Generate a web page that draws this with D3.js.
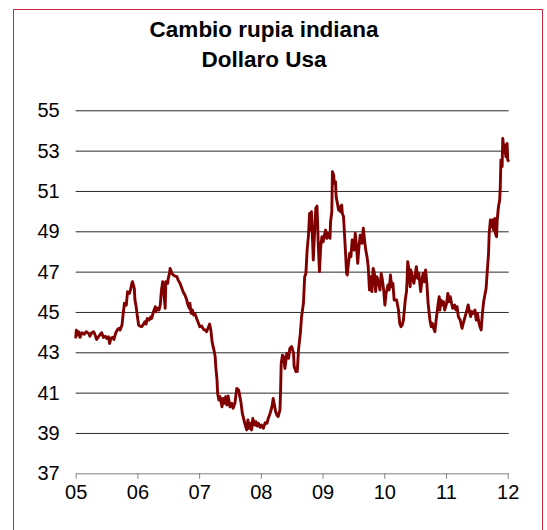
<!DOCTYPE html>
<html>
<head>
<meta charset="utf-8">
<script src="https://cdn.jsdelivr.net/npm/d3@7"></script>
<style>
  html, body { margin: 0; padding: 0; background: #fff; }
  svg { display: block; font-family: "Liberation Sans", Arial, sans-serif; }
</style>
</head>
<body>
<svg id="chart" width="547" height="530"></svg>
<script>
// INR per USD, time expressed as decimal years
const dates = [
  2005.00, 2005.01, 2005.03, 2005.05, 2005.07, 2005.10, 2005.14, 2005.17, 2005.21, 2005.23,
  2005.26, 2005.29, 2005.31, 2005.34, 2005.37, 2005.39, 2005.42, 2005.45, 2005.48, 2005.50,
  2005.53, 2005.55, 2005.57, 2005.60, 2005.62, 2005.64, 2005.65, 2005.68, 2005.70, 2005.72,
  2005.75, 2005.77, 2005.79, 2005.82, 2005.84, 2005.87, 2005.89, 2005.91, 2005.92, 2005.95,
  2005.96, 2005.98, 2006.00, 2006.02, 2006.04, 2006.07, 2006.10, 2006.12, 2006.14, 2006.16,
  2006.19, 2006.22, 2006.23, 2006.26, 2006.29, 2006.30, 2006.32, 2006.35, 2006.37, 2006.39,
  2006.41, 2006.43, 2006.45, 2006.46, 2006.49, 2006.50, 2006.52, 2006.53, 2006.56, 2006.58,
  2006.61, 2006.64, 2006.66, 2006.69, 2006.72, 2006.74, 2006.77, 2006.80, 2006.81, 2006.84,
  2006.85, 2006.87, 2006.89, 2006.91, 2006.93, 2006.96, 2006.98, 2007.00, 2007.01, 2007.04,
  2007.07, 2007.10, 2007.12, 2007.15, 2007.17, 2007.19, 2007.21, 2007.24, 2007.26, 2007.27,
  2007.29, 2007.30, 2007.32, 2007.34, 2007.37, 2007.39, 2007.41, 2007.43, 2007.45, 2007.47,
  2007.50, 2007.53, 2007.55, 2007.58, 2007.61, 2007.64, 2007.66, 2007.68, 2007.70, 2007.72,
  2007.74, 2007.77, 2007.79, 2007.81, 2007.83, 2007.85, 2007.87, 2007.90, 2007.92, 2007.94,
  2007.96, 2007.99, 2008.01, 2008.04, 2008.07, 2008.10, 2008.12, 2008.15, 2008.18, 2008.20,
  2008.22, 2008.24, 2008.26, 2008.28, 2008.31, 2008.32, 2008.33, 2008.35, 2008.37, 2008.39,
  2008.42, 2008.45, 2008.47, 2008.50, 2008.53, 2008.54, 2008.57, 2008.59, 2008.61, 2008.64,
  2008.66, 2008.69, 2008.71, 2008.73, 2008.75, 2008.77, 2008.79, 2008.81, 2008.82, 2008.85,
  2008.87, 2008.89, 2008.91, 2008.93, 2008.95, 2008.97, 2008.99, 2009.01, 2009.03, 2009.05,
  2009.07, 2009.09, 2009.12, 2009.13, 2009.15, 2009.16, 2009.18, 2009.19, 2009.21, 2009.22,
  2009.24, 2009.26, 2009.27, 2009.29, 2009.31, 2009.32, 2009.34, 2009.35, 2009.37, 2009.39,
  2009.40, 2009.42, 2009.44, 2009.46, 2009.48, 2009.51, 2009.53, 2009.55, 2009.57, 2009.59,
  2009.61, 2009.64, 2009.66, 2009.68, 2009.70, 2009.72, 2009.74, 2009.76, 2009.78, 2009.80,
  2009.82, 2009.84, 2009.86, 2009.88, 2009.91, 2009.93, 2009.95, 2009.97, 2009.99, 2010.01,
  2010.03, 2010.06, 2010.08, 2010.10, 2010.12, 2010.14, 2010.16, 2010.20, 2010.23, 2010.25,
  2010.27, 2010.29, 2010.31, 2010.34, 2010.36, 2010.37, 2010.38, 2010.40, 2010.42, 2010.43,
  2010.46, 2010.48, 2010.50, 2010.52, 2010.54, 2010.56, 2010.59, 2010.61, 2010.63, 2010.65,
  2010.67, 2010.69, 2010.71, 2010.74, 2010.76, 2010.78, 2010.80, 2010.82, 2010.84, 2010.87,
  2010.89, 2010.90, 2010.92, 2010.94, 2010.96, 2010.98, 2011.01, 2011.03, 2011.05, 2011.07,
  2011.09, 2011.11, 2011.14, 2011.16, 2011.18, 2011.20, 2011.23, 2011.26, 2011.28, 2011.31,
  2011.34, 2011.36, 2011.38, 2011.40, 2011.42, 2011.44, 2011.47, 2011.49, 2011.51, 2011.53,
  2011.55, 2011.57, 2011.59, 2011.61, 2011.63, 2011.65, 2011.67, 2011.69, 2011.70, 2011.72,
  2011.74, 2011.75, 2011.77, 2011.79, 2011.80, 2011.82, 2011.83, 2011.85, 2011.87, 2011.88,
  2011.89, 2011.91, 2011.92, 2011.94, 2011.95, 2011.97, 2011.99, 2012.00, 2012.02
];

const rates = [
  43.69, 44.10, 43.86, 44.02, 43.74, 43.97, 43.90, 44.02, 43.94, 43.80,
  43.97, 44.02, 43.90, 43.64, 43.77, 43.86, 43.97, 43.74, 43.80, 43.69,
  43.77, 43.44, 43.69, 43.74, 43.64, 43.86, 43.97, 44.14, 44.19, 44.10,
  44.35, 44.93, 45.43, 45.34, 46.00, 45.92, 46.12, 46.42, 46.50, 46.17,
  45.59, 45.26, 44.76, 44.35, 44.30, 44.27, 44.40, 44.52, 44.40, 44.68,
  44.60, 44.76, 44.68, 45.01, 45.26, 45.01, 45.18, 45.10, 45.34, 46.09,
  46.50, 45.92, 45.18, 46.50, 46.42, 46.67, 46.91, 47.16, 46.91, 46.83,
  46.78, 46.75, 46.58, 46.42, 46.17, 46.00, 45.84, 45.59, 45.43, 45.18,
  45.43, 44.93, 45.10, 44.85, 44.93, 44.68, 44.52, 44.35, 44.27, 44.30,
  44.14, 44.10, 44.02, 44.24, 44.40, 44.10, 43.52, 43.11, 42.78, 42.28,
  41.62, 40.96, 40.63, 40.80, 40.30, 40.71, 40.47, 40.80, 40.38, 40.83,
  40.30, 40.47, 40.22, 40.47, 41.21, 41.13, 40.80, 40.47, 39.97, 39.72,
  39.48, 39.15, 39.64, 39.23, 39.48, 39.15, 39.72, 39.39, 39.56, 39.34,
  39.48, 39.28, 39.39, 39.23, 39.51, 39.48, 39.72, 39.97, 40.30, 40.71,
  40.38, 40.05, 39.89, 39.81, 40.14, 41.13, 42.45, 42.86, 42.78, 42.20,
  42.95, 42.70, 43.20, 43.28, 42.95, 42.29, 42.04, 42.04, 43.11, 43.94,
  44.77, 45.43, 46.75, 46.91, 48.07, 48.73, 49.89, 49.06, 49.97, 47.58,
  48.90, 50.14, 50.25, 48.40, 47.00, 48.24, 48.73, 48.48, 48.81, 49.06,
  48.65, 48.90, 48.65, 49.48, 49.97, 51.96, 51.79, 51.38, 51.46, 50.72,
  50.39, 50.06, 50.22, 49.97, 50.30, 49.89, 49.72, 49.15, 48.07, 46.91,
  46.83, 47.41, 47.91, 47.74, 48.57, 48.07, 48.90, 48.24, 47.41, 48.24,
  48.81, 48.40, 49.15, 48.57, 48.07, 47.74, 47.24, 46.09, 46.75, 46.01,
  47.16, 46.91, 46.01, 46.75, 46.42, 46.09, 46.91, 46.58, 46.09, 45.34,
  45.92, 46.34, 46.09, 46.83, 46.25, 46.42, 45.59, 45.59, 45.10, 44.44,
  44.27, 44.35, 44.60, 45.59, 46.01, 46.58, 47.49, 47.08, 46.25, 47.08,
  46.67, 46.42, 46.83, 47.25, 46.67, 46.92, 46.01, 46.58, 46.92, 46.50,
  47.08, 46.42, 45.43, 44.60, 44.27, 44.44, 44.19, 44.02, 44.60, 45.34,
  45.76, 45.10, 45.59, 45.34, 45.51, 45.10, 45.43, 45.92, 45.51, 45.76,
  45.43, 45.18, 45.34, 45.10, 45.26, 44.77, 44.60, 44.19, 44.44, 44.77,
  45.10, 45.35, 45.02, 44.77, 45.02, 44.93, 45.10, 44.60, 44.93, 44.52,
  44.27, 44.11, 44.93, 45.51, 45.84, 46.17, 47.08, 47.91, 48.90, 49.56,
  49.23, 49.56, 49.07, 49.64, 48.90, 48.73, 49.56, 50.22, 50.55, 51.21,
  52.54, 52.21, 53.61, 53.03, 53.28, 52.70, 53.36, 52.54, 52.45
];

const yTicks = [37, 39, 41, 43, 45, 47, 49, 51, 53, 55];
const xTicks = [2005, 2006, 2007, 2008, 2009, 2010, 2011, 2012];
const xTickLabels = ["05", "06", "07", "08", "09", "10", "11", "12"];
const titleLines = ["Cambio rupia indiana", "Dollaro Usa"];

const series = dates.map((d, i) => ({ t: d, v: rates[i] }));

const svg = d3.select("#chart");

// outer frame
svg.append("rect")
  .attr("x", 13.5).attr("y", 9.5)
  .attr("width", 529).attr("height", 540)
  .attr("fill", "none")
  .attr("stroke", "#c8283c")
  .attr("stroke-width", 1);

// title
svg.append("g")
  .selectAll("text")
  .data(titleLines)
  .join("text")
  .attr("x", 264)
  .attr("y", (d, i) => 37 + i * 29.5)
  .attr("text-anchor", "middle")
  .attr("font-size", 22.5)
  .attr("font-weight", "bold")
  .attr("fill", "#000")
  .text(d => d);

const plot = { left: 75.7, right: 507.7, top: 110.3, bottom: 473.3 };

const x = d3.scaleLinear().domain([2005, 2012]).range([plot.left, plot.right]);
const y = d3.scaleLinear().domain([37, 55]).range([plot.bottom, plot.top]);

// horizontal gridlines with value labels
const yAxis = d3.axisLeft(y)
  .tickValues(yTicks)
  .tickFormat(d3.format("d"))
  .tickSize(-(plot.right - plot.left + 1))
  .tickPadding(16);

const gy = svg.append("g")
  .attr("transform", `translate(${plot.left},0)`)
  .call(yAxis);
gy.select(".domain").remove();
gy.selectAll(".tick line")
  .attr("stroke", d => d === 37 ? "none" : "#2a2a2a")
  .attr("stroke-width", 1);
gy.selectAll(".tick text")
  .attr("font-size", 20)
  .attr("font-family", "'Liberation Sans', Arial, sans-serif")
  .attr("fill", "#000");

// time axis
const xAxis = d3.axisBottom(x)
  .tickValues(xTicks)
  .tickFormat((d, i) => xTickLabels[i])
  .tickSizeInner(5.5)
  .tickSizeOuter(0)
  .tickPadding(6);

const gx = svg.append("g")
  .attr("transform", `translate(0,${plot.bottom})`)
  .call(xAxis);
gx.select(".domain").attr("stroke", "#808080").attr("stroke-width", 1);
gx.selectAll(".tick line").attr("stroke", "#808080");
gx.selectAll(".tick text")
  .attr("font-size", 20)
  .attr("font-family", "'Liberation Sans', Arial, sans-serif")
  .attr("fill", "#000");

// exchange-rate line
const line = d3.line()
  .x(d => x(d.t))
  .y(d => y(d.v));

svg.append("path")
  .datum(series)
  .attr("d", line)
  .attr("fill", "none")
  .attr("stroke", "#800000")
  .attr("stroke-width", 2.9)
  .attr("stroke-linejoin", "round");
</script>
</body>
</html>
